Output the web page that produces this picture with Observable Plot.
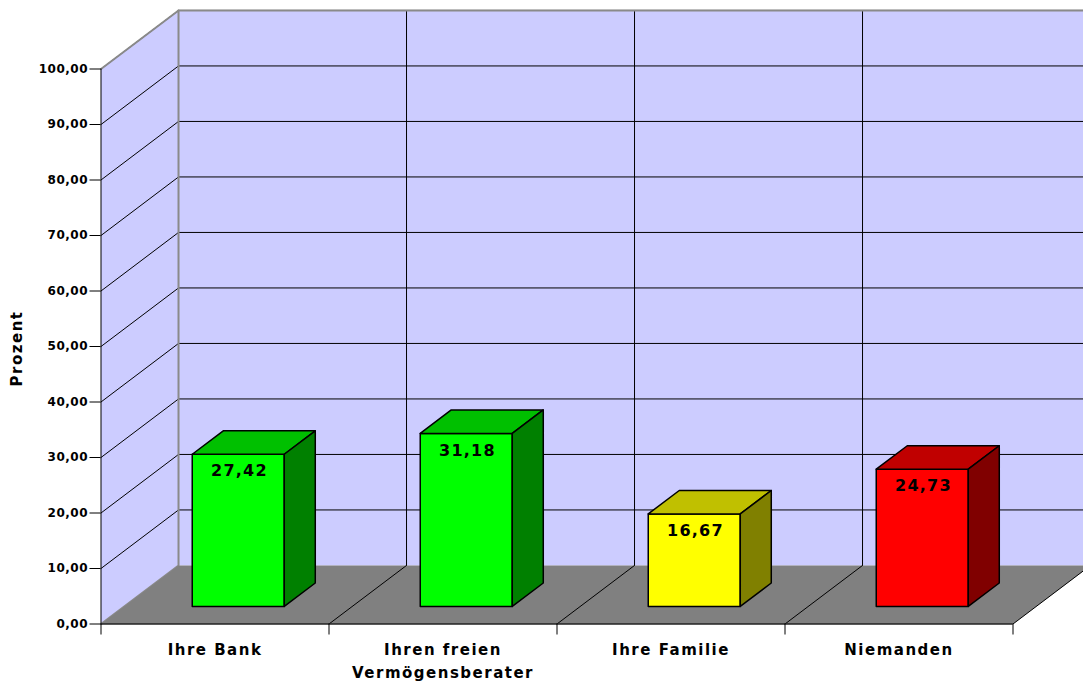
<!DOCTYPE html>
<html>
<head>
<meta charset="utf-8">
<script src="https://cdn.jsdelivr.net/npm/d3@7"></script>
<script src="https://cdn.jsdelivr.net/npm/@observablehq/plot@0.6"></script>
<style>
  html, body { margin: 0; padding: 0; background: #fff; overflow: hidden; }
  svg { display: block; }
  g[aria-label="text"] { letter-spacing: 1.5px; }
  g[aria-label="text"].bar-value { letter-spacing: 1.2px; }
  g[aria-label="y-axis tick label"] { letter-spacing: 0.5px; }
</style>
</head>
<body>
<div id="chart"></div>
<script>
// Survey answers, in percent
const categories = ["Ihre Bank", "Ihren freien\nVermögensberater", "Ihre Familie", "Niemanden"];
const values = [27.42, 31.18, 16.67, 24.73];
const frontColors = ["#00ff00", "#00ff00", "#ffff00", "#ff0000"];
const topColors = ["#00c000", "#00c000", "#c0c000", "#c00000"];
const sideColors = ["#008000", "#008000", "#808000", "#800000"];
const yTicks = [0, 10, 20, 30, 40, 50, 60, 70, 80, 90, 100];
const xTicks = [0, 1, 2, 3, 4];

// Oblique projection: full room depth, expressed in the units of each axis
const depthX = 0.34;
const depthY = 10.55;
const project = (x, y, d) => ({x: x + d * depthX, y: y + d * depthY});

// Bars sit between 30% and 70% of the room depth, centred in their category
const barHalf = 0.2018;
const barCenter = 0.5;
const barD0 = 0.3;
const barD1 = 0.7;

// One closed polygon per face, as rows of {x, y, z}
const polygon = (z, fill, pts) => pts.map(([x, y, d]) => ({...project(x, y, d), z, fill}));

const room = [
  ...polygon("side", "#ccccff", [[0, 0, 0], [0, 0, 1], [0, 100, 1], [0, 100, 0]]),
  ...polygon("back", "#ccccff", [[0, 0, 1], [4, 0, 1], [4, 100, 1], [0, 100, 1]]),
];
const floor = polygon("floor", "#808080", [[0, 0, 0], [4, 0, 0], [4, 0, 1], [0, 0, 1]]);

const faces = values.flatMap((v, i) => {
  const a = i + barCenter - barHalf;
  const b = i + barCenter + barHalf;
  return [
    ...polygon(`front${i}`, frontColors[i], [[a, 0, barD0], [b, 0, barD0], [b, v, barD0], [a, v, barD0]]),
    ...polygon(`top${i}`, topColors[i], [[a, v, barD0], [b, v, barD0], [b, v, barD1], [a, v, barD1]]),
    ...polygon(`side${i}`, sideColors[i], [[b, 0, barD0], [b, 0, barD1], [b, v, barD1], [b, v, barD0]]),
  ];
});

// Grid lines running along the walls
const segment = (z, pts) => pts.map(([x, y, d]) => ({...project(x, y, d), z}));
const gridLines = yTicks.slice(1).flatMap((t) =>
  segment(`h${t}`, [[0, t, 0], [0, t, 1], [4, t, 1]])
);
const backVerticals = xTicks.slice(1, 4).flatMap((t) =>
  segment(`v${t}`, [[t, 0, 1], [t, 100, 1]])
);
const floorLines = xTicks.slice(1).flatMap((t) =>
  segment(`f${t}`, [[t, 0, 0], [t, 0, 1]])
);
const roomEdges = [
  ...segment("e1", [[0, 0, 0], [0, 0, 1], [0, 100, 1], [0, 100, 0]]),
  ...segment("e2", [[0, 100, 1], [4, 100, 1]]),
];

const comma = (d) => d.toFixed(2).replace(".", ",");
const font = {fontFamily: "'DejaVu Sans', Verdana, sans-serif", fontWeight: "bold"};

const chart = Plot.plot({
  width: 1083,
  height: 682,
  marginLeft: 100.5,
  marginRight: 70.5,
  marginTop: 68.5,
  marginBottom: 58.5,
  style: {background: "#fff", ...font, fontSize: "12px", color: "#000", overflow: "hidden"},
  x: {domain: [0, 4], axis: null},
  y: {domain: [0, 100], axis: null},
  marks: [
    Plot.line(room, {x: "x", y: "y", z: "z", fill: "fill", stroke: null, curve: "linear-closed"}),
    Plot.line(gridLines, {x: "x", y: "y", z: "z", stroke: "#000", strokeWidth: 1}),
    Plot.line(backVerticals, {x: "x", y: "y", z: "z", stroke: "#000", strokeWidth: 1}),
    Plot.line(roomEdges, {x: "x", y: "y", z: "z", stroke: "#8a8a8a", strokeWidth: 2}),
    Plot.line(floor, {x: "x", y: "y", z: "z", fill: "fill", stroke: null, curve: "linear-closed"}),
    Plot.line(floorLines, {x: "x", y: "y", z: "z", stroke: "#000", strokeWidth: 1}),
    Plot.ruleY([0], {stroke: "#222", strokeWidth: 1.5}),
    Plot.ruleX([0], {stroke: "#000", strokeWidth: 1}),
    Plot.axisY({
      ticks: yTicks,
      tickSize: 11,
      tickPadding: 2,
      tickFormat: comma,
      fontSize: 12,
      label: null
    }),
    Plot.axisX({
      ticks: xTicks,
      tickSize: 11,
      tickFormat: () => "",
      label: null
    }),
    Plot.text(["Prozent"], {
      frameAnchor: "left",
      textAnchor: "middle",
      y: () => 50,
      rotate: -90,
      dx: -83.5,
      dy: 2,
      fontSize: 15,
      fontWeight: "bold",
      fill: "#000"
    }),
    Plot.line(faces, {x: "x", y: "y", z: "z", fill: "fill", stroke: "#000", strokeWidth: 1.5, strokeLinejoin: "round", curve: "linear-closed"}),
    Plot.text(values, {
      x: (d, i) => project(i + barCenter, d, barD0).x + 0.005,
      y: (d) => project(0, d, barD0).y,
      text: comma,
      className: "bar-value",
      dy: 17,
      fontSize: 16,
      fontWeight: "bold",
      fill: "#000"
    }),
    Plot.text(categories, {
      x: (d, i) => i + barCenter,
      y: () => 0,
      text: (d) => d,
      lineAnchor: "top",
      lineHeight: 1.53,
      dy: 14.5,
      fontSize: 15,
      fontWeight: "bold",
      fill: "#000"
    })
  ]
});

document.getElementById("chart").append(chart);
</script>
</body>
</html>
